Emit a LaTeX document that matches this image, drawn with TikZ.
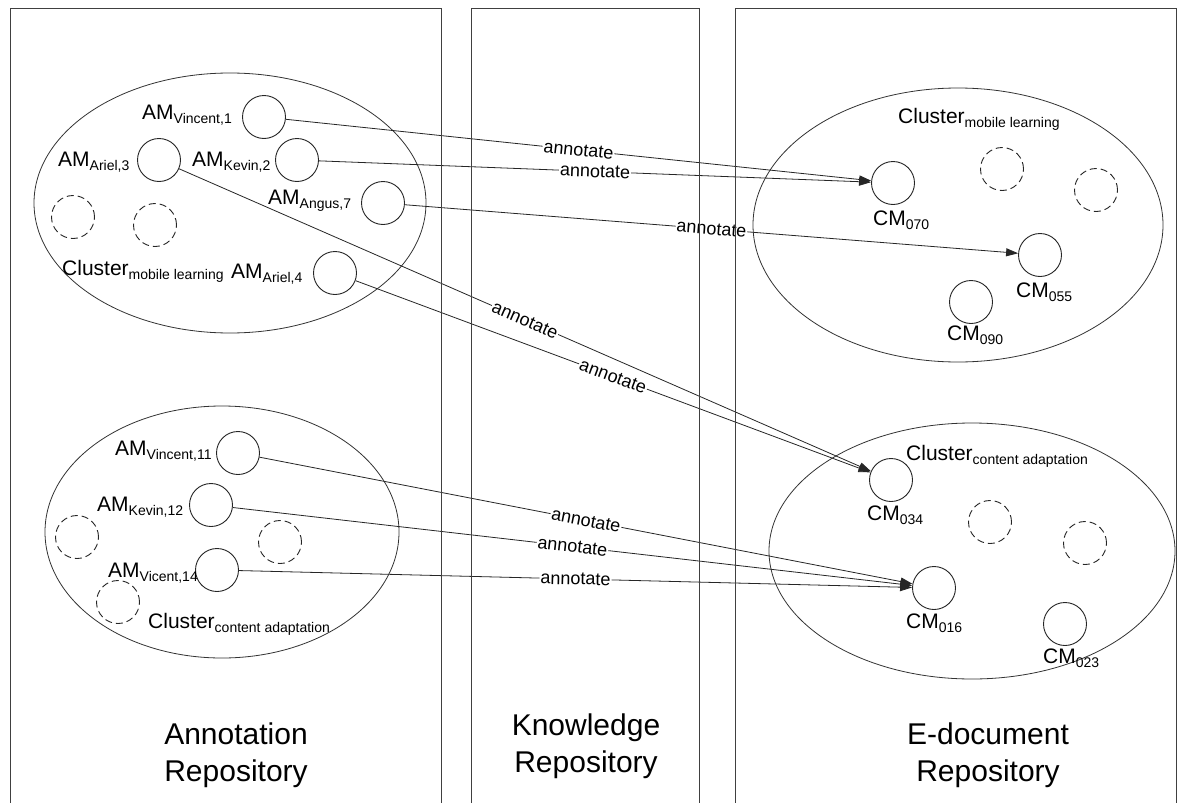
\documentclass[tikz,border=0pt]{standalone}
\usepackage{fontspec}
\setmainfont{Liberation Sans}
\usetikzlibrary{arrows.meta}
% lowered, smaller index text after a name
\newcommand{\lowsub}[1]{\raisebox{-4.5pt}{\fontsize{14}{14}\selectfont #1}}

\begin{document}
\begin{tikzpicture}[x=1pt,y=-1pt,
  frame/.style={draw=black!75, line width=0.9pt},
  cluster/.style={draw=black!80, line width=0.8pt},
  mem/.style={circle, draw=black!85, line width=0.9pt, minimum size=43pt, inner sep=0pt},
  ghost/.style={mem, dash pattern=on 7pt off 4pt},
  lbl/.style={anchor=base west, inner sep=0pt, font=\fontsize{21}{21}\selectfont},
  link/.style={draw=black!85, line width=0.8pt, -{Triangle[length=12pt,width=8pt]}},
  annot/.style={midway, sloped, fill=white, inner sep=1pt, font=\fontsize{18}{18}\selectfont},
  title/.style={align=center, font=\fontsize{30}{37}\selectfont}]

\useasboundingbox (0,0) rectangle (1178,803);
\fill[white] (0,0) rectangle (1178,803);

% clusters
\draw[cluster] (230,203) ellipse [x radius=196pt, y radius=130pt];
\draw[cluster] (222,532) ellipse [x radius=177pt, y radius=126pt];
\draw[cluster] (958,225) ellipse [x radius=205pt, y radius=137pt];
\draw[cluster] (972,551) ellipse [x radius=203pt, y radius=128pt];

% annotation members, mobile learning
\node[mem] (v1) at (264,117) {};
\node[mem] (a3) at (159,160) {};
\node[mem] (k2) at (297,160) {};
\node[mem] (g7) at (383,203) {};
\node[mem] (a4) at (335,273) {};
\node[ghost] (la) at (73,217) {};
\node[ghost] (lb) at (155,225) {};
\node[lbl] (tv1) at (142,119) {AM\lowsub{Vincent,1}};
\node[lbl] (ta3) at (58,166) {AM\lowsub{Ariel,3}};
\node[lbl] (tk2) at (192,166) {AM\lowsub{Kevin,2}};
\node[lbl] (tg7) at (268,204) {AM\lowsub{Angus,7}};
\node[lbl] (tcl1) at (62,275) {Cluster\lowsub{mobile learning}};
\node[lbl] (ta4) at (231,278) {AM\lowsub{Ariel,4}};

% annotation members, content adaptation
\node[mem] (v11) at (238,453) {};
\node[mem] (k12) at (211,505) {};
\node[mem] (v14) at (217,570) {};
\node[ghost] (lc) at (77,537) {};
\node[ghost] (ld) at (280,542) {};
\node[ghost] (le) at (118,602) {};
\node[lbl] (tv11) at (115,455) {AM\lowsub{Vincent,11}};
\node[lbl] (tk12) at (97,511) {AM\lowsub{Kevin,12}};
\node[lbl] (tv14) at (108,577) {AM\lowsub{Vicent,14}};
\node[lbl] (tcl2) at (148,628) {Cluster\lowsub{content adaptation}};

% document members, mobile learning
\node[mem] (c070) at (893,183) {};
\node[mem] (c055) at (1040,255) {};
\node[mem] (c090) at (971,302) {};
\node[ghost] (ra) at (1002,169) {};
\node[ghost] (rb) at (1096,190) {};
\node[lbl] (tcl3) at (898,123) {Cluster\lowsub{mobile learning}};
\node[lbl] (t070) at (873,225) {CM\lowsub{070}};
\node[lbl] (t055) at (1016,297) {CM\lowsub{055}};
\node[lbl] (t090) at (947,340) {CM\lowsub{090}};

% document members, content adaptation
\node[mem] (c034) at (891,480) {};
\node[mem] (c016) at (934,588) {};
\node[mem] (c023) at (1065,624) {};
\node[ghost] (rc) at (990,522) {};
\node[ghost] (rd) at (1085,543) {};
\node[lbl] (tcl4) at (906,460) {Cluster\lowsub{content adaptation}};
\node[lbl] (t034) at (867,520) {CM\lowsub{034}};
\node[lbl] (t016) at (906,628) {CM\lowsub{016}};
\node[lbl] (t023) at (1043,663) {CM\lowsub{023}};

% annotate links
\draw[link] (v1) -- node[annot] {annotate} (c070);
\draw[link] (k2) -- node[annot] {annotate} (c070);
\draw[link] (g7) -- node[annot] {annotate} (c055);
\draw[link] (a3) -- node[annot] {annotate} (c034);
\draw[link] (a4) -- node[annot] {annotate} (c034);
\draw[link] (v11) -- node[annot] {annotate} (c016);
\draw[link] (k12) -- node[annot] {annotate} (c016);
\draw[link] (v14) -- node[annot] {annotate} (c016);

% repository frames
\draw[frame] (10,803) -- (10,8) -- (441,8) -- (441,803);
\draw[frame] (471,803) -- (471,8) -- (699,8) -- (699,803);
\draw[frame] (735,803) -- (735,8) -- (1176,8) -- (1176,803);

\node[title] (ar) at (236,755) {Annotation\\Repository};
\node[title] (kr) at (586,746) {Knowledge\\Repository};
\node[title] (er) at (988,755) {E-document\\Repository};
\end{tikzpicture}
\end{document}
